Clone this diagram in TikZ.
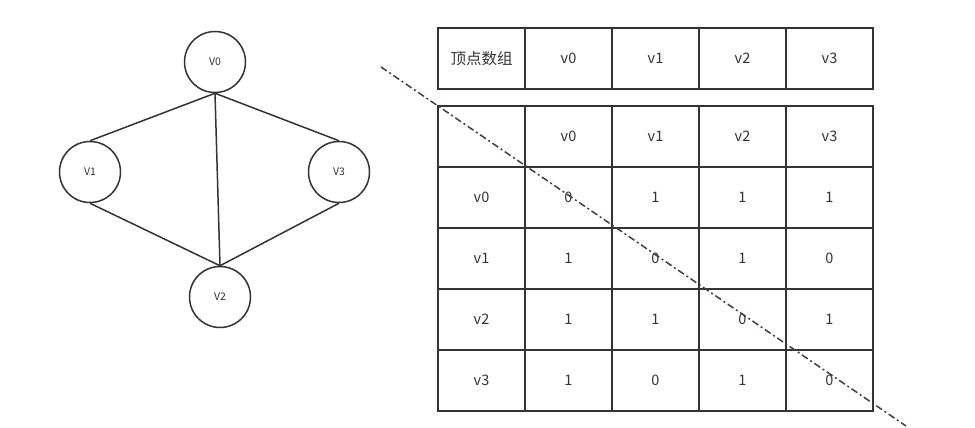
\documentclass[tikz,border=0pt]{standalone}
\usepackage{fontspec}
\setmainfont{Noto Sans CJK SC}
\definecolor{ink}{HTML}{333333}
\definecolor{diag}{HTML}{4A3B3B}
\begin{document}
\begin{tikzpicture}[x=1pt,y=-1pt,
  vert/.style={circle,draw=ink,line width=1.5pt,minimum size=61pt,inner sep=0pt,text=ink,font=\fontsize{10.5}{12}\selectfont},
  edge/.style={draw=ink,line width=1.5pt},
  cell/.style={rectangle,draw=ink,line width=1.6pt,minimum width=87pt,minimum height=61pt,inner sep=0pt,outer sep=0pt,text=ink,font=\fontsize{14.5}{16}\selectfont},
  cjkcell/.style={cell,font=\fontsize{15.5}{17}\selectfont},
  diagline/.style={draw=diag,line width=1.5pt,dash pattern=on 7pt off 3pt on 2pt off 3pt}]
\useasboundingbox (0,0) rectangle (975,428);
% graph
\node[vert] (v0) at (215,62) {V0};
\node[vert] (v1) at (90,172) {V1};
\node[vert] (v3) at (339,172) {V3};
\node[vert] (v2) at (220,297) {V2};
\draw[edge] (v0.south) -- (v1.north);
\draw[edge] (v0.south) -- (v3.north);
\draw[edge] (v0.south) -- (v2.north);
\draw[edge] (v1.south) -- (v2.north);
\draw[edge] (v3.south) -- (v2.north);
% vertex array
\node[cjkcell] (a0) at (481.5,58.5) {顶点数组};
\node[cell] (a1) at (568.5,58.5) {v0};
\node[cell] (a2) at (655.5,58.5) {v1};
\node[cell] (a3) at (742.5,58.5) {v2};
\node[cell] (a4) at (829.5,58.5) {v3};
% matrix
\node[cell] (h0) at (481.5,136.5) {};
\node[cell] (h1) at (568.5,136.5) {v0};
\node[cell] (h2) at (655.5,136.5) {v1};
\node[cell] (h3) at (742.5,136.5) {v2};
\node[cell] (h4) at (829.5,136.5) {v3};
\node[cell] (r0) at (481.5,197.5) {v0};
\node[cell] (m00) at (568.5,197.5) {0};
\node[cell] (m01) at (655.5,197.5) {1};
\node[cell] (m02) at (742.5,197.5) {1};
\node[cell] (m03) at (829.5,197.5) {1};
\node[cell] (r1) at (481.5,258.5) {v1};
\node[cell] (m10) at (568.5,258.5) {1};
\node[cell] (m11) at (655.5,258.5) {0};
\node[cell] (m12) at (742.5,258.5) {1};
\node[cell] (m13) at (829.5,258.5) {0};
\node[cell] (r2) at (481.5,319.5) {v2};
\node[cell] (m20) at (568.5,319.5) {1};
\node[cell] (m21) at (655.5,319.5) {1};
\node[cell] (m22) at (742.5,319.5) {0};
\node[cell] (m23) at (829.5,319.5) {1};
\node[cell] (r3) at (481.5,380.5) {v3};
\node[cell] (m30) at (568.5,380.5) {1};
\node[cell] (m31) at (655.5,380.5) {0};
\node[cell] (m32) at (742.5,380.5) {1};
\node[cell] (m33) at (829.5,380.5) {0};
% diagonal
\coordinate (ds) at (381,67);
\coordinate (de) at (906,426);
\draw[diagline] (ds) -- (de);
\end{tikzpicture}
\end{document}
